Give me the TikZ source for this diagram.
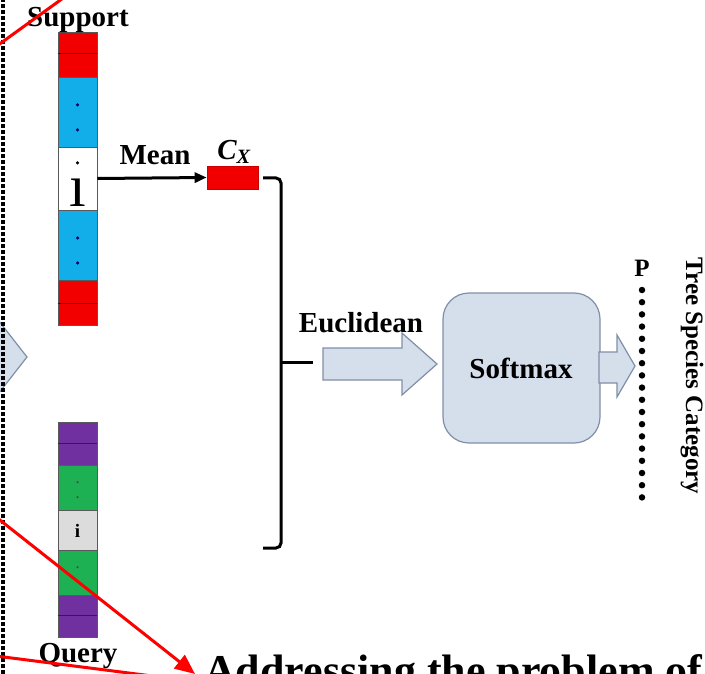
\documentclass[tikz,border=0pt]{standalone}
\usepackage{fontspec}
\setmainfont{Liberation Serif}
\usetikzlibrary{arrows.meta}
\definecolor{cred}{HTML}{F20000}
\definecolor{cblue}{HTML}{12AEEA}
\definecolor{cpurple}{HTML}{7030A0}
\definecolor{cgreen}{HTML}{1DB153}
\definecolor{cgray}{HTML}{DCDCDC}
\definecolor{boxfill}{HTML}{D5DEEB}
\definecolor{boxline}{HTML}{7F8FA8}
\tikzset{
  cell/.style={draw=black!65, line width=0.8pt, minimum width=39pt, inner sep=0pt, anchor=center},
  lbl/.style={font=\fontsize{29}{34}\selectfont\bfseries, inner sep=0pt},
  tdot/.style={circle, fill=black!60!blue, inner sep=0pt, minimum size=3.5pt},
  pdot/.style={circle, fill=black, inner sep=0pt, minimum size=6.5pt},
  blockarrow/.style={fill=boxfill, draw=boxline, line width=1.2pt, line join=miter},
  redline/.style={draw=red, line width=3pt},
  sep/.style={draw=black!60!red, line width=0.8pt}
}
\begin{document}
\begin{tikzpicture}[x=1pt,y=-1pt]
\useasboundingbox (0,0) rectangle (705,674);

% incoming block arrow cut by the frame
\draw[blockarrow] (-5,316) -- (27,357) -- (-5,398);

% dashed frame edge
\draw[black, line width=3.5pt, dash pattern=on 4pt off 2pt] (3,-2) -- (3,676);

% support column
\node[cell, fill=cred, minimum height=45pt] (s1) at (77.5,54.5) {};
\node[cell, fill=cblue, minimum height=70pt] (s2) at (77.5,112) {};
\node[cell, fill=white, minimum height=63pt] (s3) at (77.5,178.5) {};
\node[cell, fill=cblue, minimum height=70pt] (s4) at (77.5,245) {};
\node[cell, fill=cred, minimum height=45pt] (s5) at (77.5,302.5) {};
\draw[sep] (s1.west |- 0,53) -- (s1.east |- 0,53);
\draw[sep] (s5.west |- 0,303) -- (s5.east |- 0,303);
\node[tdot] (d1) at (77.5,105) {};
\node[tdot] (d2) at (77.5,130) {};
\node[tdot] (d3) at (77.5,238) {};
\node[tdot] (d4) at (77.5,263) {};
\node[circle, fill=black, inner sep=0pt, minimum size=3.5pt] (idot) at (77.5,163) {};
\node[font=\fontsize{60}{60}\selectfont, inner sep=0pt, anchor=base] (iletter) at (78,207) {\i};
\node[lbl, anchor=base] (support) at (78,27) {Support};

% query column
\node[cell, fill=cpurple, minimum height=43pt] (q1) at (77.5,443.5) {};
\node[cell, fill=cgreen, minimum height=45pt] (q2) at (77.5,487.5) {};
\node[cell, fill=cgray, minimum height=40pt] (q3) at (77.5,530) {};
\node[cell, fill=cgreen, minimum height=45pt] (q4) at (77.5,572.5) {};
\node[cell, fill=cpurple, minimum height=42pt] (q5) at (77.5,616) {};
\draw[draw=black!50!cpurple, line width=0.8pt] (q1.west |- 0,443) -- (q1.east |- 0,443);
\draw[draw=black!50!cpurple, line width=0.8pt] (q5.west |- 0,615) -- (q5.east |- 0,615);
\node[circle, fill=black!70, inner sep=0pt, minimum size=2.5pt] (g1) at (77.5,482) {};
\node[circle, fill=black!70, inner sep=0pt, minimum size=2.5pt] (g2) at (77.5,497) {};
\node[circle, fill=black!70, inner sep=0pt, minimum size=2.5pt] (g3) at (77.5,567) {};
\node[font=\fontsize{19}{19}\selectfont\bfseries, inner sep=0pt] (qi) at (77.5,531) {i};
\node[lbl, anchor=base] (query) at (78,662) {Query};

% prototype
\node[draw=red!80!black, fill=cred, line width=0.6pt, minimum width=51pt, minimum height=23pt, inner sep=0pt] (cx) at (232.5,177.5) {};
\draw[-{Triangle[length=12pt,width=10pt]}, line width=3pt] (s3.east) -- (cx.west);
\node[lbl, anchor=base] (mean) at (155,165) {Mean};
\node[font=\fontsize{29}{34}\selectfont\bfseries\itshape, inner sep=0pt] (cxl) at (234,152) {C\textsubscript{X}};

% bracket joining prototype and query
\coordinate (bt) at (263,178);
\coordinate (bb) at (263,548);
\coordinate (bm) at (281,362);
\coordinate (bo) at (313,362);
\draw[line width=3pt, rounded corners=5pt] (bt) -- (281,178) -- (281,548) -- (bb);
\draw[line width=3pt] (bm) -- (bo);

% distance arrow
\draw[blockarrow] (323,348) -- (402,348) -- (402,333) -- (437,364) -- (402,395) -- (402,380) -- (323,380) -- cycle;
\node[lbl, anchor=base] (eucl) at (361,332) {Euclidean};

% softmax
\node[draw=boxline, fill=boxfill, line width=1.2pt, rounded corners=26pt, minimum width=157pt, minimum height=150pt] (soft) at (521.5,368) {};
\node[lbl] (softl) at (521,368) {Softmax};
\draw[blockarrow] (599,352) -- (617,352) -- (617,335) -- (635,366) -- (617,397) -- (617,383) -- (599,383) -- cycle;

% output probabilities
\foreach \k in {0,...,17} {
  \node[pdot] (p\k) at (642,{290+12.2*\k}) {};
}
\node[font=\fontsize{25}{30}\selectfont\bfseries, inner sep=0pt] (plabel) at (642,268) {P};
\node[font=\fontsize{25}{30}\selectfont\bfseries, inner sep=0pt, rotate=-90] (cat) at (692,376) {Tree Species Category};

% callout lines
\coordinate (r1a) at (-6,48);
\coordinate (r1b) at (66,-4);
\coordinate (r2a) at (-4,517);
\coordinate (r2b) at (195,674);
\coordinate (r3a) at (-4,656);
\coordinate (r3b) at (160,677);
\draw[redline] (r1a) -- (r1b);
\draw[redline, -{Triangle[length=20pt,width=17pt]}] (r2a) -- (r2b);
\draw[redline] (r3a) -- (r3b);
\node[font=\fontsize{44}{48}\selectfont\bfseries, inner sep=0pt, anchor=base west] (caption) at (204,685) {Addressing the problem of};
\end{tikzpicture}
\end{document}
